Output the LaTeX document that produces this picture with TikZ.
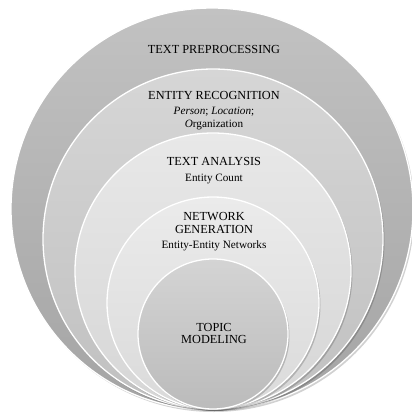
\documentclass[tikz,border=0pt]{standalone}
\usepackage{fontspec}
\setmainfont{Liberation Serif}
\definecolor{cAtop}{HTML}{C2C2C2}
\definecolor{cAbot}{HTML}{A4A4A4}
\definecolor{cBtop}{HTML}{D6D6D6}
\definecolor{cBbot}{HTML}{C0C0C0}
\definecolor{cCtop}{HTML}{E8E8E8}
\definecolor{cCbot}{HTML}{D6D6D6}
\definecolor{cDtop}{HTML}{EBEBEB}
\definecolor{cDbot}{HTML}{DADADA}
\definecolor{cEtop}{HTML}{D4D4D4}
\definecolor{cEbot}{HTML}{BBBBBB}
\tikzset{
  rim/.style={draw=white, line width=1.3pt},
  shadowdisk/.style={fill=black, opacity=0.18},
  titletext/.style={font=\fontsize{12.3}{12.3}\selectfont, align=center, inner sep=0pt, text=black},
  subtext/.style={font=\fontsize{11.2}{13}\selectfont, align=center, inner sep=0pt, text=black}
}
\begin{document}
\begin{tikzpicture}[x=1pt,y=-1pt]
\useasboundingbox (0,0) rectangle (412,413);
% outer disk
\fill[shadowdisk] (213.5,211) circle[radius=201pt];
\shade[top color=cAtop, bottom color=cAbot, rim] (212,209) circle[radius=201pt];
% disk 2
\fill[shadowdisk] (214.5,241) circle[radius=170pt];
\shade[top color=cBtop, bottom color=cBbot, rim] (213,239) circle[radius=170pt];
% disk 3
\fill[shadowdisk] (214.5,273) circle[radius=138pt];
\shade[top color=cCtop, bottom color=cCbot, rim] (213,271) circle[radius=138pt];
% disk 4
\fill[shadowdisk] (214.5,305) circle[radius=106pt];
\shade[top color=cDtop, bottom color=cDbot, rim] (213,303) circle[radius=106pt];
% disk 5
\fill[shadowdisk] (214.5,336) circle[radius=75pt];
\shade[top color=cEtop, bottom color=cEbot, rim] (213,334) circle[radius=75pt];
% labels
\node[titletext] (tp) at (214,49) {TEXT PREPROCESSING};
\node[titletext] (er) at (214,95) {ENTITY RECOGNITION};
\node[subtext] (ers) at (214,118.5) {\textit{Person}; \textit{Location};\\\textit{O}rganization};
\node[titletext] (ta) at (214,161) {TEXT ANALYSIS};
\node[subtext] (tas) at (214,179) {Entity Count};
\node[titletext] (ng) at (214,223) {NETWORK\\GENERATION};
\node[subtext] (ngs) at (214,246) {Entity-Entity Networks};
\node[titletext] (tm) at (214,333.5) {TOPIC\\MODELING};
\end{tikzpicture}
\end{document}
